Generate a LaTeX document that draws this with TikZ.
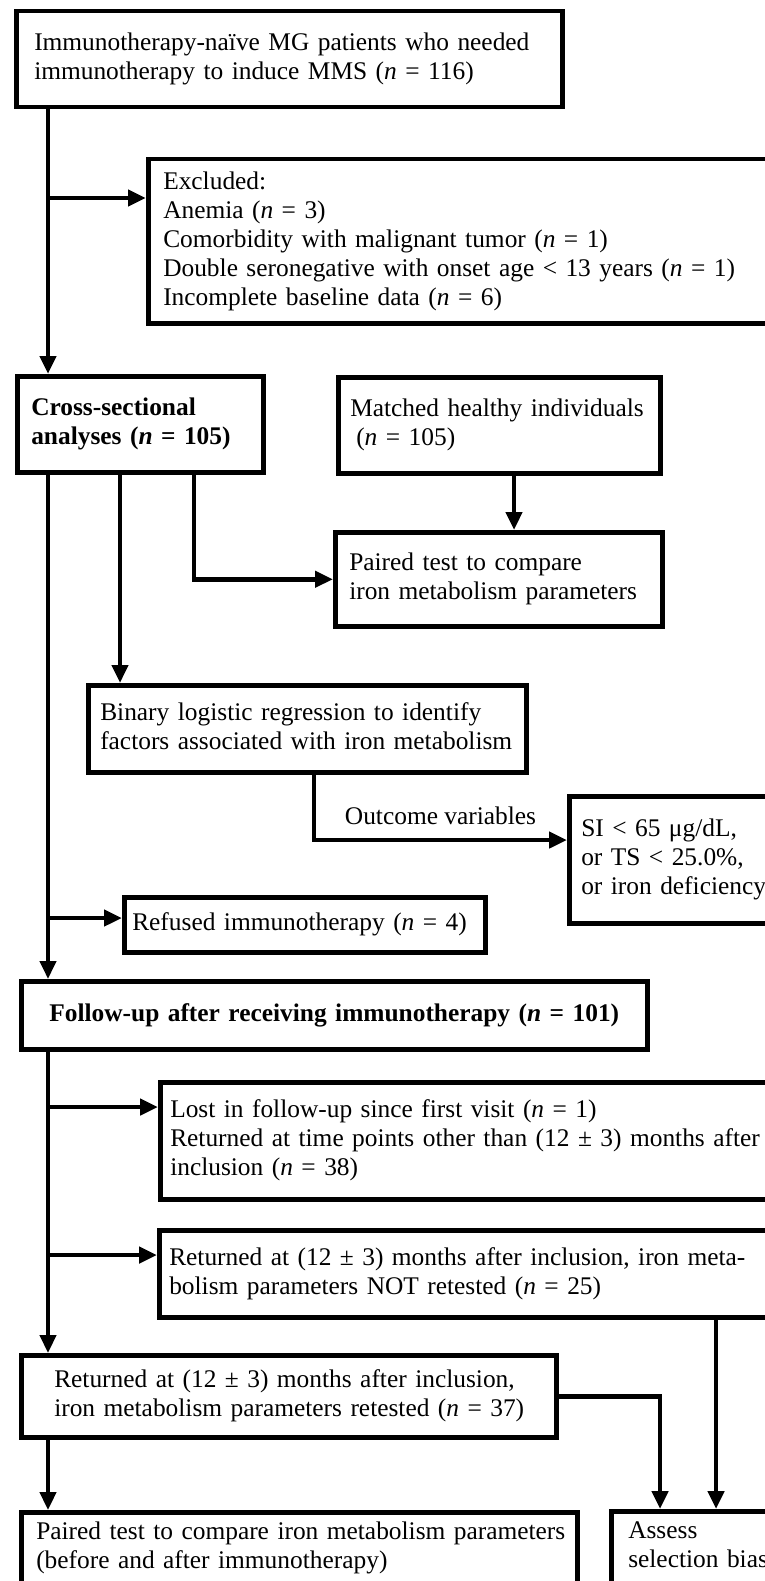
\documentclass[tikz,border=0pt]{standalone}
\usepackage{fontspec}
\setmainfont{Liberation Serif}
\usetikzlibrary{arrows.meta}
\newcommand{\boxlines}[1]{\begin{tabular}{@{}l@{}}#1\end{tabular}}
\begin{document}
\begin{tikzpicture}[x=1pt,y=-1pt,
  font=\fontsize{25.4}{29}\selectfont,
  box/.style={draw, line width=4.5pt, rectangle, anchor=north west, align=left, inner ysep=4pt},
  arr/.style={line width=4.5pt, -{Triangle[length=18pt,width=16pt]}},
  lbl/.style={above=11pt, inner sep=2pt}]
\useasboundingbox (0,0) rectangle (765,1581);
\clip (0,0) rectangle (765,1581);
\fill[white] (0,0) rectangle (765,1581);

% nodes
\node[box, minimum width=546pt, minimum height=96pt, inner xsep=18pt, text width=510pt] (start) at (14,9)
  {\boxlines{Immunotherapy-naïve MG patients who needed\\ immunotherapy to induce MMS (\textit{n} = 116)}};
\node[box, minimum width=684pt, minimum height=164pt, inner xsep=15pt, text width=654pt] (excl) at (146,157)
  {\boxlines{Excluded:\\ Anemia (\textit{n} = 3)\\ Comorbidity with malignant tumor (\textit{n} = 1)\\ Double seronegative with onset age < 13 years (\textit{n} = 1)\\ Incomplete baseline data (\textit{n} = 6)}};
\node[box, minimum width=246pt, minimum height=96pt, inner xsep=14pt, text width=218pt] (cross) at (15,374)
  {\bfseries\boxlines{Cross-sectional\\ analyses (\textit{n} = 105)}};
\node[box, minimum width=322pt, minimum height=96pt, inner xsep=12pt, text width=298pt] (matched) at (336,375)
  {\boxlines{Matched healthy individuals\\ \hspace*{6pt}(\textit{n} = 105)}};
\node[box, minimum width=327pt, minimum height=94pt, inner xsep=14pt, text width=299pt] (paired1) at (333,530)
  {\boxlines{Paired test to compare\\ iron metabolism parameters}};
\node[box, minimum width=438pt, minimum height=87pt, inner xsep=12pt, text width=414pt] (binary) at (86,683)
  {\boxlines{Binary logistic regression to identify\\ factors associated with iron metabolism}};
\node[box, minimum width=283pt, minimum height=127pt, inner xsep=12pt, text width=259pt] (si) at (567,794)
  {\boxlines{SI < 65 μg/dL,\\ or TS < 25.0\%,\\ or iron deficiency}};
\node[box, minimum width=361pt, minimum height=55pt, inner xsep=8pt, text width=345pt] (refused) at (122,895)
  {\boxlines{Refused immunotherapy (\textit{n} = 4)}};
\node[box, minimum width=626pt, minimum height=68pt, inner xsep=13pt, text width=600pt, align=center] (follow) at (19,979)
  {\bfseries\boxlines{Follow-up after receiving immunotherapy (\textit{n} = 101)}};
\node[box, minimum width=672pt, minimum height=117pt, inner xsep=10pt, text width=652pt] (lost) at (158,1080)
  {\boxlines{Lost in follow-up since first visit (\textit{n} = 1)\\ Returned at time points other than (12 ± 3) months after\\ inclusion (\textit{n} = 38)}};
\node[box, minimum width=673pt, minimum height=87pt, inner xsep=10pt, text width=653pt] (notre) at (157,1228)
  {\boxlines{Returned at (12 ± 3) months after inclusion, iron meta-\\ bolism parameters NOT retested (\textit{n} = 25)}};
\node[box, minimum width=535pt, minimum height=82pt, inner xsep=33pt, text width=469pt] (retested) at (19,1353)
  {\boxlines{Returned at (12 ± 3) months after inclusion,\\ iron metabolism parameters retested (\textit{n} = 37)}};
\node[box, inner xsep=15pt, inner ysep=7pt, text width=526pt] (paired2) at (19,1510)
  {\boxlines{Paired test to compare iron metabolism parameters\\ (before and after immunotherapy)\rule[-40pt]{0pt}{40pt}}};
\node[box, inner xsep=17pt, inner ysep=7pt, text width=200pt] (assess) at (609,1509)
  {\boxlines{Assess\\ selection bias\rule[-40pt]{0pt}{40pt}}};

% helper coordinates
\coordinate (tx) at (48,0);
\coordinate (c2x) at (120,0);
\coordinate (c3x) at (194,0);
\coordinate (mx) at (514,0);
\coordinate (bx) at (314,0);
\coordinate (ax1) at (660,0);
\coordinate (ax2) at (716,0);
\coordinate (ey) at (0,198);
\coordinate (oy) at (0,840);
\coordinate (ry) at (0,918);
\coordinate (ly) at (0,1107);
\coordinate (ny) at (0,1255);

% connectors
\draw[arr] (tx |- start.south) -- (tx |- cross.north);
\draw[arr] (tx |- ey) -- (excl.west |- ey);
\draw[arr] (tx |- cross.south) -- (tx |- follow.north);
\draw[arr] (c2x |- cross.south) -- (c2x |- binary.north);
\draw[arr] (c3x |- cross.south) |- (paired1.west);
\draw[arr] (mx |- matched.south) -- (mx |- paired1.north);
\draw[arr] (bx |- binary.south) |- node[lbl, pos=0.75] {Outcome variables} (si.west |- oy);
\draw[arr] (tx |- ry) -- (refused.west |- ry);
\draw[arr] (tx |- follow.south) -- (tx |- retested.north);
\draw[arr] (tx |- ly) -- (lost.west |- ly);
\draw[arr] (tx |- ny) -- (notre.west |- ny);
\draw[arr] (tx |- retested.south) -- (tx |- paired2.north);
\draw[arr] (retested.east) -| (ax1 |- assess.north);
\draw[arr] (ax2 |- notre.south) -- (ax2 |- assess.north);
\end{tikzpicture}
\end{document}
